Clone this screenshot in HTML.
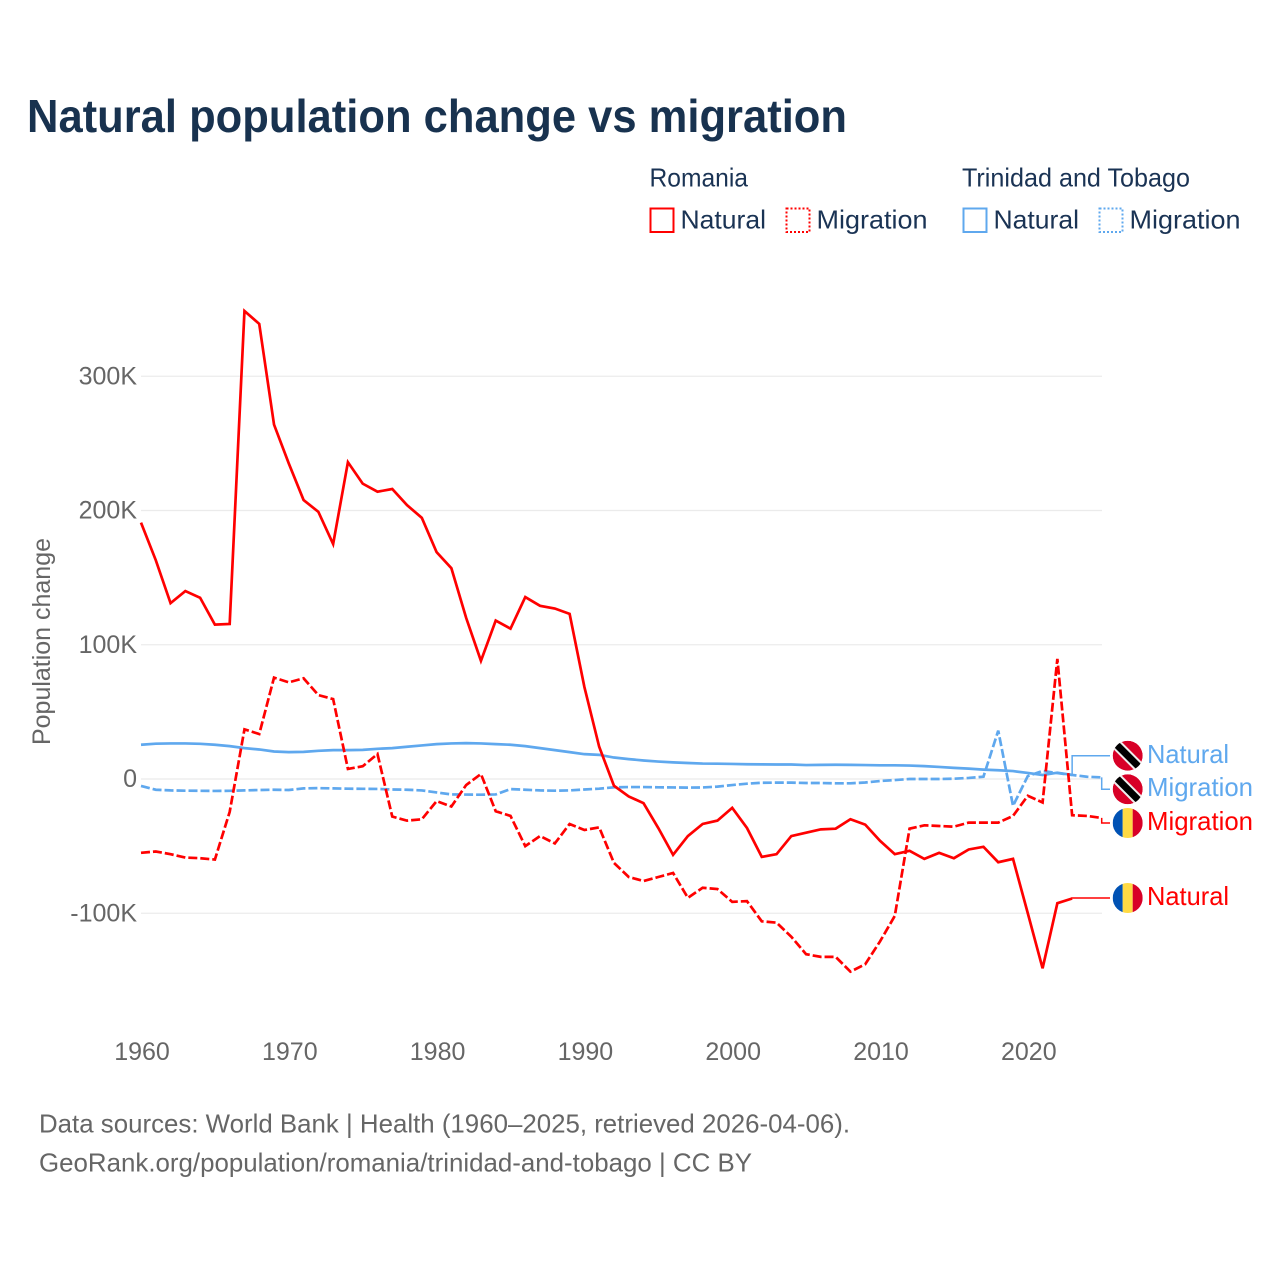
<!DOCTYPE html>
<html lang="en">
<head>
<meta charset="utf-8">
<title>Natural population change vs migration</title>
<style>
html,body{margin:0;padding:0;background:#fff;width:1280px;height:1280px;overflow:hidden}
svg{display:block}
text{font-family:"Liberation Sans",sans-serif}
.lg{fill:#1a3354;font-size:26px}
.src{fill:#666;font-size:26px}
.tick{fill:#666;font-size:25px}
</style>
</head>
<body>
<svg id="chart" width="1280" height="1280" viewBox="0 0 1280 1280" xmlns="http://www.w3.org/2000/svg">
<defs>
<clipPath id="c1"><circle cx="1127.7" cy="755.7" r="15"/></clipPath>
<clipPath id="c2"><circle cx="1127.7" cy="789.3" r="15"/></clipPath>
<clipPath id="c3"><circle cx="1127.7" cy="823" r="15"/></clipPath>
<clipPath id="c4"><circle cx="1127.7" cy="898" r="15"/></clipPath>
</defs>
<rect width="1280" height="1280" fill="#fff"/>
<text x="27" y="132" font-size="46" font-weight="700" fill="#18324f" textLength="820" lengthAdjust="spacingAndGlyphs">Natural population change vs migration</text>

<g>
<text class="lg" x="649.5" y="186.5" textLength="98.5" lengthAdjust="spacingAndGlyphs">Romania</text>
<text class="lg" x="962" y="186.5" textLength="228" lengthAdjust="spacingAndGlyphs">Trinidad and Tobago</text>
<rect x="650.5" y="208.5" width="23" height="23.5" fill="none" stroke="#ff0000" stroke-width="2"/>
<text class="lg" x="680.5" y="228.5" textLength="85.5" lengthAdjust="spacingAndGlyphs">Natural</text>
<rect x="786.5" y="208.5" width="23" height="23.5" fill="none" stroke="#ff0000" stroke-width="2" stroke-dasharray="2 2"/>
<text class="lg" x="816.5" y="228.5" textLength="111" lengthAdjust="spacingAndGlyphs">Migration</text>
<rect x="963.5" y="208.5" width="23" height="23.5" fill="none" stroke="#5fa8ee" stroke-width="2"/>
<text class="lg" x="993.5" y="228.5" textLength="85.5" lengthAdjust="spacingAndGlyphs">Natural</text>
<rect x="1099.5" y="208.5" width="23" height="23.5" fill="none" stroke="#5fa8ee" stroke-width="2" stroke-dasharray="2 2"/>
<text class="lg" x="1129.5" y="228.5" textLength="111" lengthAdjust="spacingAndGlyphs">Migration</text>
</g>

<g id="grid"></g>
<g id="yticks"></g>
<g id="xticks"></g>
<text transform="translate(50,745) rotate(-90)" font-size="25" fill="#666" textLength="207" lengthAdjust="spacingAndGlyphs">Population change</text>
<g id="series"></g>

<g clip-path="url(#c1)">
<circle cx="1127.7" cy="755.7" r="15" fill="#d80027"/>
<line x1="1112.7" y1="740.7" x2="1142.7" y2="770.7" stroke="#eeeeee" stroke-width="11"/>
<line x1="1112.7" y1="740.7" x2="1142.7" y2="770.7" stroke="#000" stroke-width="7"/>
</g>
<g clip-path="url(#c2)">
<circle cx="1127.7" cy="789.3" r="15" fill="#d80027"/>
<line x1="1112.7" y1="774.3" x2="1142.7" y2="804.3" stroke="#eeeeee" stroke-width="11"/>
<line x1="1112.7" y1="774.3" x2="1142.7" y2="804.3" stroke="#000" stroke-width="7"/>
</g>
<g clip-path="url(#c3)">
<rect x="1112.7" y="808" width="10" height="30" fill="#0052b4"/>
<rect x="1122.7" y="808" width="10" height="30" fill="#ffda44"/>
<rect x="1132.7" y="808" width="10" height="30" fill="#d80027"/>
</g>
<g clip-path="url(#c4)">
<rect x="1112.7" y="883" width="10" height="30" fill="#0052b4"/>
<rect x="1122.7" y="883" width="10" height="30" fill="#ffda44"/>
<rect x="1132.7" y="883" width="10" height="30" fill="#d80027"/>
</g>

<text x="1147" y="763" font-size="26" fill="#5fa8ee" textLength="82" lengthAdjust="spacingAndGlyphs">Natural</text>
<text x="1147" y="796" font-size="26" fill="#5fa8ee" textLength="106" lengthAdjust="spacingAndGlyphs">Migration</text>
<text x="1147" y="830" font-size="26" fill="#ff0000" textLength="106" lengthAdjust="spacingAndGlyphs">Migration</text>
<text x="1147" y="905" font-size="26" fill="#ff0000" textLength="82" lengthAdjust="spacingAndGlyphs">Natural</text>

<text class="src" x="39" y="1132.5" textLength="811" lengthAdjust="spacingAndGlyphs">Data sources: World Bank | Health (1960–2025, retrieved 2026-04-06).</text>
<text class="src" x="39" y="1171.5" textLength="713" lengthAdjust="spacingAndGlyphs">GeoRank.org/population/romania/trinidad-and-tobago | CC BY</text>
</svg>
<script>
var startYear = 1960;
var xTickYears = [1960, 1970, 1980, 1990, 2000, 2010, 2020];
var yTickValues = [-100, 0, 100, 200, 300];
var yTickLabels = ['-100K', '0', '100K', '200K', '300K'];

var romaniaNatural = [191,163,131,140,135,115,115.5,348.6,339,264,235,207.8,199,175,236,220,214,216,204,194.5,169,157,120,88,118,112,135.5,129,127,123,68.5,24,-5,-13,-18,-36.5,-56.5,-42.5,-33.5,-31,-21.5,-36.5,-58,-56,-42.5,-40,-37.5,-37,-30,-34,-46,-56,-53.5,-59.5,-55,-59,-52.5,-50.5,-62,-59.5,-100,-141,-92.5,-89];
var romaniaMigration = [-55,-54,-56,-58.5,-59,-60,-24.5,37,33.5,75.5,72,75,62.5,59.5,7.5,9.5,18.6,-28,-31,-30,-16.5,-20.5,-4.5,3.7,-24,-27.5,-50,-42.5,-48,-33.5,-38,-36,-62.5,-73,-76,-73,-70,-88.5,-81,-82,-91.5,-91,-106,-107,-117.5,-130.5,-132.5,-132.5,-143.5,-138,-121,-102,-37,-34.5,-35,-35.5,-32.5,-32.5,-32.5,-27.5,-12.5,-17.5,89.5,-27,-27.5,-29];
var ttNatural = [25.5,26.3,26.5,26.5,26.2,25.5,24.5,23,22,20.5,20,20.2,21,21.5,21.5,21.7,22.5,23,24,25,26,26.5,26.7,26.5,26,25.5,24.5,23,21.5,20,18.5,18,16,14.8,13.8,13,12.4,11.9,11.5,11.4,11.2,11,10.9,10.8,10.8,10.4,10.5,10.6,10.5,10.4,10.2,10.2,10,9.6,9,8.3,7.7,7,6.5,5.9,4.5,3,4.7,3];
var ttMigration = [-5.2,-8,-8.5,-8.7,-8.8,-8.9,-8.8,-8.5,-8.2,-8,-8.2,-7,-6.8,-7,-7.2,-7.3,-7.4,-7.8,-8,-8.5,-10,-11.5,-11.6,-11.7,-11.5,-7.5,-8,-8.5,-8.7,-8.5,-7.8,-7.2,-6.2,-6,-6,-6.2,-6.3,-6.4,-6.3,-5.7,-4.5,-3.5,-2.8,-2.7,-2.7,-3,-3,-3.2,-3.2,-2.6,-1.5,-0.8,0,0,0,0.2,0.8,1.7,36,-20,2.2,6,4.4,3,1.7,1.2];

var NS = 'http://www.w3.org/2000/svg';
function xScale(year) { return 141 + (year - 1960) * 14.78; }
function yScale(v) { return 779 - v * 1.3425; }

var gridG = document.getElementById('grid');
var yG = document.getElementById('yticks');
var xG = document.getElementById('xticks');
var seriesG = document.getElementById('series');

yTickValues.forEach(function (v, i) {
  var l = document.createElementNS(NS, 'line');
  
  
  l.setAttribute('x1', 141);
  l.setAttribute('x2', 1102);
  l.setAttribute('y1', yScale(v));
  l.setAttribute('y2', yScale(v));
  l.setAttribute('stroke', '#ebebeb');
  l.setAttribute('stroke-width', '1.3');
  gridG.appendChild(l);
  var t = document.createElementNS(NS, 'text');
  
  
  t.setAttribute('class', 'tick');
  t.setAttribute('x', 137);
  t.setAttribute('y', yScale(v) + 8);
  t.setAttribute('text-anchor', 'end');
  t.textContent = yTickLabels[i];
  yG.appendChild(t);
});

xTickYears.forEach(function (y) {
  var t = document.createElementNS(NS, 'text');
  
  
  t.setAttribute('class', 'tick');
  t.setAttribute('x', xScale(y) + 1);
  t.setAttribute('y', 1060);
  t.setAttribute('text-anchor', 'middle');
  t.textContent = String(y);
  xG.appendChild(t);
});

function linePoints(values) {
  return values.map(function (v, i) {
    return xScale(startYear + i).toFixed(2) + ',' + yScale(v).toFixed(2);
  }).join(' ');
}
function connectorPoints(values, labelY) {
  var lastX = xScale(startYear + values.length - 1);
  var lastY = yScale(values[values.length - 1]);
  return [lastX + ',' + lastY, lastX + ',' + labelY, '1110,' + labelY].join(' ');
}
function addSeries(values, name, color, dash, labelY) {
  var c = document.createElementNS(NS, 'polyline');
  
  
  c.setAttribute('points', connectorPoints(values, labelY));
  c.setAttribute('fill', 'none');
  c.setAttribute('stroke', color);
  c.setAttribute('stroke-width', '1.5');
  seriesG.appendChild(c);
  var p = document.createElementNS(NS, 'polyline');
  
  
  p.setAttribute('points', linePoints(values));
  p.setAttribute('fill', 'none');
  p.setAttribute('stroke', color);
  p.setAttribute('stroke-width', '2.7');
  p.setAttribute('stroke-linejoin', 'miter');
  if (dash) { p.setAttribute('stroke-dasharray', dash); }
  seriesG.appendChild(p);
}
addSeries(ttMigration, 'tt-migration', '#5fa8ee', '9 3', 789.3);
addSeries(ttNatural, 'tt-natural', '#5fa8ee', '', 755.7);
addSeries(romaniaMigration, 'romania-migration', '#ff0000', '9 3', 823);
addSeries(romaniaNatural, 'romania-natural', '#ff0000', '', 898);
</script>
</body>
</html>
